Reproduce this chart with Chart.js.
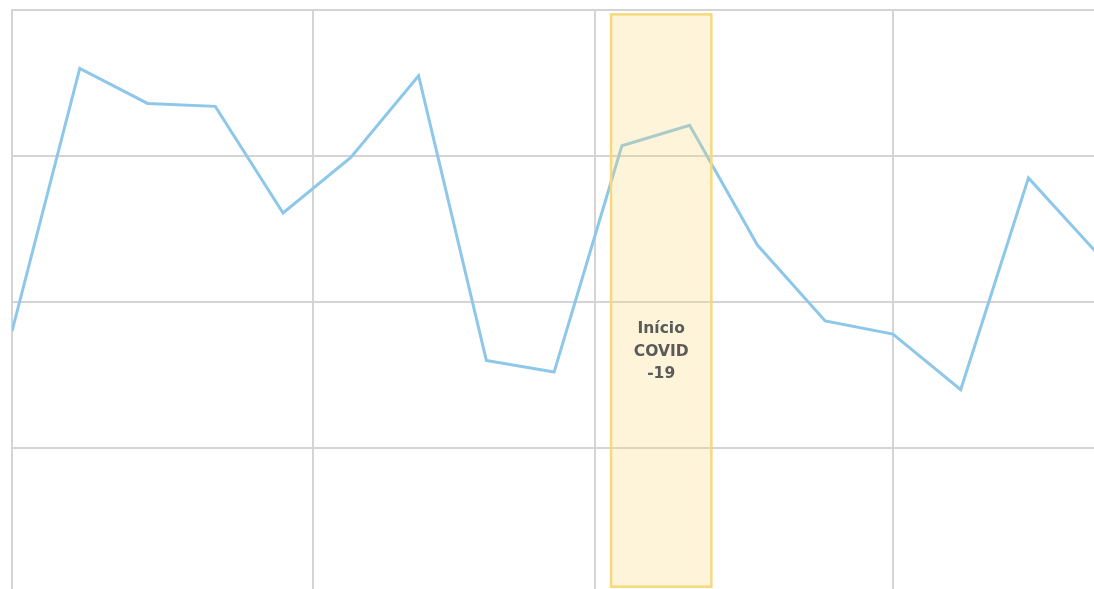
<!DOCTYPE html>
<html>
<head>
<meta charset="utf-8">
<script src="https://cdn.jsdelivr.net/npm/chart.js@4/dist/chart.umd.min.js"></script>
<style>
  html, body { margin: 0; padding: 0; background: #fff; overflow: hidden; }
  #wrap { width: 1164px; height: 594px; position: relative; }
</style>
</head>
<body>
<div id="wrap"><canvas id="chart"></canvas></div>
<script>
// data
const periods = [0, 1, 2, 3, 4, 5, 6, 7, 8, 9, 10, 11, 12, 13, 14, 15, 16];
const values = [1.80, 3.60, 3.36, 3.34, 2.61, 2.99, 3.55, 1.60, 1.52, 3.07, 3.21, 2.39, 1.87, 1.78, 1.40, 2.85, 2.34];
const xGridTicks = [0, 4.44, 8.6, 13, 17];
const yGridTicks = [0, 1, 2, 3, 4];
const covidLabel = ['Início', 'COVID', '-19'];
const covidRange = [8.84, 10.32];
const covidYRange = [0.05, 3.97];

const points = periods.map((p, i) => ({ x: p, y: values[i] }));

// shaded band (drawn over the line, semi transparent) with label
const covidBand = {
	id: 'covidBand',
	afterDatasetsDraw(chart) {
		const { ctx, scales: { x, y } } = chart;
		const left = x.getPixelForValue(covidRange[0]);
		const right = x.getPixelForValue(covidRange[1]);
		const top = y.getPixelForValue(covidYRange[1]);
		const bottom = y.getPixelForValue(covidYRange[0]);
		ctx.save();
		ctx.fillStyle = 'rgba(248, 216, 120, 0.28)';
		ctx.fillRect(left, top, right - left, bottom - top);
		ctx.strokeStyle = '#f6d87e';
		ctx.lineWidth = 2.5;
		ctx.strokeRect(left, top, right - left, bottom - top);

		const cx = (left + right) / 2;
		const cy = y.getPixelForValue(1.66);
		ctx.fillStyle = '#5a5a5a';
		ctx.font = 'bold 15.5px "DejaVu Sans", Verdana, sans-serif';
		ctx.textAlign = 'center';
		ctx.textBaseline = 'middle';
		covidLabel.forEach((line, i) => {
			ctx.fillText(line, cx, cy + (i - 1) * 22.5);
		});
		ctx.restore();
	}
};

const ctx = document.getElementById('chart').getContext('2d');
const myChart = new Chart(ctx, {
	type: 'line',
	data: {
		datasets: [{
			data: points,
			borderColor: '#8dc7ea',
			borderWidth: 3,
			pointRadius: 0,
			tension: 0,
			fill: false
		}]
	},
	options: {
		responsive: true,
		maintainAspectRatio: false,
		animation: false,
		layout: { padding: { left: 12, top: 10, right: 0, bottom: 0 } },
		plugins: { legend: { display: false }, tooltip: { enabled: false } },
		scales: {
			x: {
				type: 'linear',
				min: 0,
				max: 17,
				afterBuildTicks: (axis) => { axis.ticks = xGridTicks.map(v => ({ value: v })); },
				ticks: { display: false },
				grid: { color: '#d4d4d4', lineWidth: 2, drawTicks: false },
				border: { display: true, color: '#d4d4d4', width: 2 }
			},
			y: {
				min: 0,
				max: 4,
				afterBuildTicks: (axis) => { axis.ticks = yGridTicks.map(v => ({ value: v })); },
				ticks: { display: false },
				grid: { color: '#d4d4d4', lineWidth: 2, drawTicks: false },
				border: { display: true, color: '#d4d4d4', width: 2 }
			}
		}
	},
	plugins: [covidBand]
});
</script>
</body>
</html>
